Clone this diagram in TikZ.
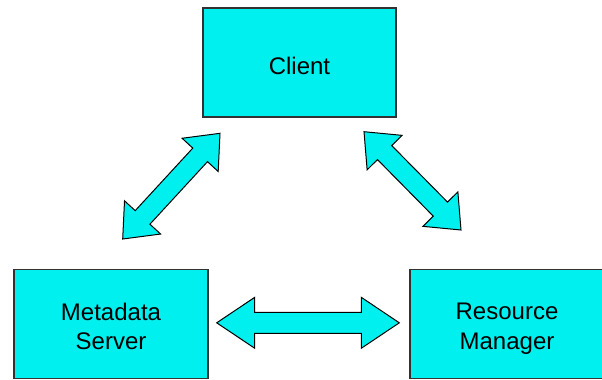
\documentclass[tikz,border=0pt]{standalone}
\usepackage{fontspec}
\setmainfont{Liberation Sans}
\usetikzlibrary{calc}

\definecolor{boxcyan}{RGB}{0,240,240}
\definecolor{edgegray}{RGB}{50,50,50}

% Double-headed block arrow between two named tips.
% #1, #2: tips; #3: head length; #4: head half width; #5: shaft half width
\newcommand\dblblockarrow[5]{%
  \path ($(#1)!#3!(#2)$) coordinate (ha) ($(#2)!#3!(#1)$) coordinate (hb);
  \draw[arrowbody] (#1)
    -- ($(ha)!#4!90:(#2)$) -- ($(ha)!#5!90:(#2)$)
    -- ($(hb)!#5!-90:(#1)$) -- ($(hb)!#4!-90:(#1)$)
    -- (#2)
    -- ($(hb)!#4!90:(#1)$) -- ($(hb)!#5!90:(#1)$)
    -- ($(ha)!#5!-90:(#2)$) -- ($(ha)!#4!-90:(#2)$)
    -- cycle;
}

\tikzset{
  block/.style={draw=edgegray, line width=0.8pt, fill=boxcyan, rectangle,
    inner sep=0pt, minimum height=81.75pt},
  txt/.style={font=\fontsize{18pt}{22pt}\selectfont, align=center, inner sep=0pt},
  arrowbody/.style={draw=black, line width=0.75pt, fill=boxcyan, line join=miter}
}

\begin{document}
\begin{tikzpicture}[x=0.75pt, y=-0.75pt]
\useasboundingbox (0,0) rectangle (602,379);

% boxes
\node[block, minimum width=144.75pt] (client)   at (299.5,62.5) {};
\node[block, minimum width=145.5pt]  (metadata) at (111,323.75) {};
\node[block, minimum width=145.5pt]  (resource) at (507,324) {};

% labels (base anchor sits on the last line's baseline)
\node[txt, anchor=base] (clientlbl) at (299.5,74) {Client};
\node[txt, anchor=base] (metalbl)   at (111,349.8) {Metadata\\Server};
\node[txt, anchor=base] (reslbl)    at (507,349.3) {Resource\\Manager};

% arrow tips
\coordinate (mcL) at (122.7,239);
\coordinate (mcU) at (220,133.3);
\coordinate (crU) at (364,131.7);
\coordinate (crL) at (461,230);
\coordinate (mrL) at (216.7,322.8);
\coordinate (mrR) at (399.3,322.8);

% connectors
\dblblockarrow{mcL}{mcU}{22pt}{18.4pt}{7.5pt}
\dblblockarrow{crU}{crL}{22pt}{18.4pt}{7.5pt}
\dblblockarrow{mrL}{mrR}{28.5pt}{19.1pt}{7.9pt}
\end{tikzpicture}
\end{document}
